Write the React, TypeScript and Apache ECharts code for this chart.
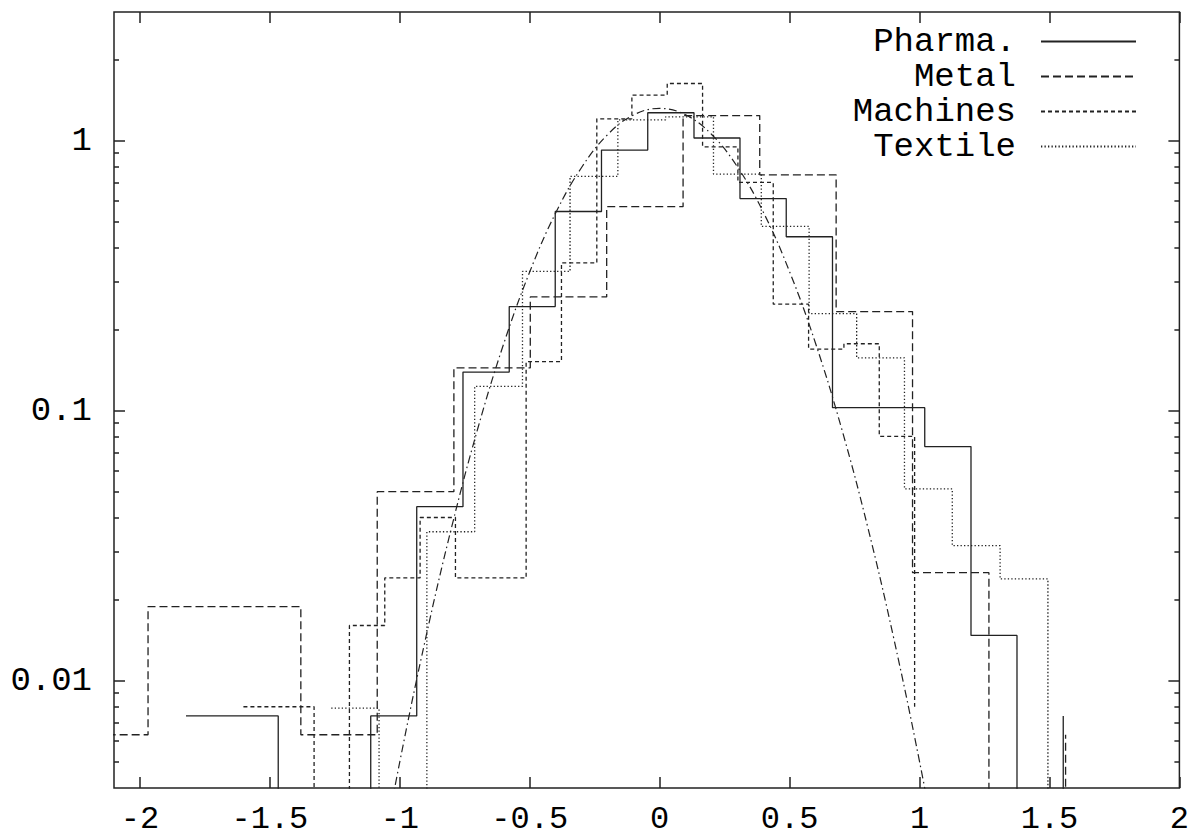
import React, { useEffect, useRef } from "react";
import * as echarts from "echarts";

const FONT = '"Liberation Mono", "Courier New", monospace';
const INK = "#222";

// axes
const X_MIN = -2.1;
const X_MAX = 2;
const X_TICKS = [-2, -1.5, -1, -0.5, 0, 0.5, 1, 1.5, 2];
const X_TICK_LABELS = ["-2", "-1.5", "-1", "-0.5", "0", "0.5", "1", "1.5", "2"];
const Y_MIN = 0.004;
const Y_MAX = 3;
const Y_MAJOR = [0.01, 0.1, 1];
const Y_MAJOR_LABELS = ["0.01", "0.1", "1"];
const Y_MINOR = [
    0.005, 0.006, 0.007, 0.008, 0.009,
    0.02, 0.03, 0.04, 0.05, 0.06, 0.07, 0.08, 0.09,
    0.2, 0.3, 0.4, 0.5, 0.6, 0.7, 0.8, 0.9,
    2,
];

// empty bins go below the bottom of the log axis
const EMPTY_FLOOR = 1e-4;

// histogram bin edges (left edge of each bin, last one closes the series) and densities
const pharmaEdges = [-1.823, -1.645, -1.468, -1.29, -1.112, -0.935, -0.757, -0.579, -0.402, -0.224, -0.046, 0.132, 0.309, 0.487, 0.665, 0.842, 1.02, 1.198, 1.375, 1.553];
const pharmaValues = [0.0074, 0.0074, 0, 0, 0.0074, 0.0441, 0.139, 0.243, 0.547, 0.924, 1.27, 1.024, 0.611, 0.441, 0.1026, 0.1026, 0.0736, 0.0147, 0, 0.0074];

const metalEdges = [-2.263, -1.969, -1.675, -1.381, -1.087, -0.792, -0.498, -0.204, 0.09, 0.385, 0.679, 0.973, 1.267, 1.562];
const metalValues = [0.0063, 0.0188, 0.0188, 0.0063, 0.0501, 0.144, 0.264, 0.57, 1.24, 0.748, 0.233, 0.0251, 0, 0.0063];

const machinesEdges = [-1.602, -1.465, -1.33, -1.194, -1.058, -0.922, -0.786, -0.65, -0.514, -0.378, -0.242, -0.107, 0.029, 0.165, 0.301, 0.437, 0.573, 0.709, 0.845, 0.981];
const machinesValues = [0.008, 0.008, 0, 0.016, 0.024, 0.0402, 0.024, 0.024, 0.152, 0.353, 1.206, 1.476, 1.63, 0.95, 0.701, 0.248, 0.169, 0.177, 0.0803, 0.008];

const textileEdges = [-1.264, -1.08, -0.896, -0.712, -0.528, -0.345, -0.161, 0.023, 0.207, 0.391, 0.575, 0.758, 0.942, 1.126, 1.31, 1.494];
const textileValues = [0.0079, 0, 0.0356, 0.123, 0.328, 0.738, 1.196, 1.227, 0.753, 0.482, 0.229, 0.157, 0.0513, 0.0316, 0.0238, 0];

// fitted curve
const fitX = [-1.1, -1.0, -0.9, -0.8, -0.7, -0.6, -0.5, -0.4, -0.3, -0.2, -0.1, 0, 0.1, 0.2, 0.3, 0.4, 0.5, 0.6, 0.7, 0.8, 0.9, 1.0, 1.1];
const fitY = [0.00156, 0.00501, 0.01445, 0.03725, 0.0859, 0.1773, 0.327, 0.541, 0.798, 1.055, 1.247, 1.318, 1.247, 1.055, 0.798, 0.541, 0.327, 0.1773, 0.0859, 0.03725, 0.01445, 0.00501, 0.00156];

const toLog = (v: number) => Math.log10(v > 0 ? v : EMPTY_FLOOR);
const steps = (edges: number[], values: number[]) => edges.map((x, i) => [x, toLog(values[i])]);

const histSeries = (name: string, edges: number[], values: number[], dash: any, width = 1.3) => ({
    name,
    type: "line",
    step: "end",
    symbol: "none",
    data: steps(edges, values),
    lineStyle: { color: INK, width, type: dash },
    itemStyle: { color: INK },
});

const yAxisBase = (position: "left" | "right", values: number[], len: number, labels: boolean) => ({
    type: "value",
    position,
    min: Math.log10(Y_MIN),
    max: Math.log10(Y_MAX),
    axisLine: { show: false, onZero: false },
    splitLine: { show: false },
    axisTick: {
        show: true,
        inside: true,
        length: len,
        customValues: values.map(Math.log10),
        lineStyle: { color: INK, width: 1.5 },
    },
    axisLabel: labels
        ? {
              show: true,
              customValues: Y_MAJOR.map(Math.log10),
              formatter: (v: number) => {
                  const i = Y_MAJOR.findIndex((t) => Math.abs(Math.log10(t) - v) < 1e-6);
                  return i >= 0 ? Y_MAJOR_LABELS[i] : "";
              },
              fontFamily: FONT,
              fontSize: 34,
              color: "#000",
              margin: 22,
          }
        : { show: false },
});

const xAxisBase = (position: "bottom" | "top", labels: boolean) => ({
    type: "value",
    position,
    min: X_MIN,
    max: X_MAX,
    axisLine: { show: false, onZero: false },
    splitLine: { show: false },
    axisTick: {
        show: true,
        inside: true,
        length: 11,
        customValues: X_TICKS,
        lineStyle: { color: INK, width: 1.5 },
    },
    axisLabel: labels
        ? {
              show: true,
              customValues: X_TICKS,
              formatter: (v: number) => {
                  const i = X_TICKS.findIndex((t) => Math.abs(t - v) < 1e-6);
                  return i >= 0 ? X_TICK_LABELS[i] : "";
              },
              fontFamily: FONT,
              fontSize: 32,
              color: "#000",
              margin: 15,
          }
        : { show: false },
});

const App = () => {
    const chartRef = useRef<HTMLDivElement>(null);

    useEffect(() => {
        const chart = echarts.init(chartRef.current!, null, { renderer: "svg" });

        const option: any = {
            animation: false,
            backgroundColor: "#fff",
            grid: {
                left: 114,
                right: 12,
                top: 12,
                bottom: 51,
                show: true,
                borderColor: INK,
                borderWidth: 1.5,
                backgroundColor: "transparent",
            },
            legend: {
                data: ["Pharma.", "Metal", "Machines", "Textile"],
                orient: "vertical",
                align: "right",
                right: 55,
                top: 24,
                padding: 0,
                itemGap: 0,
                itemWidth: 95,
                itemHeight: 14,
                selectedMode: false,
                itemStyle: { opacity: 0 },
                textStyle: {
                    fontFamily: FONT,
                    fontSize: 34,
                    color: "#000",
                    lineHeight: 35,
                    padding: [0, 20, 0, 0],
                },
            },
            xAxis: [xAxisBase("bottom", true), xAxisBase("top", false)],
            yAxis: [
                yAxisBase("left", Y_MAJOR, 11, true),
                yAxisBase("left", Y_MINOR, 5, false),
                yAxisBase("right", Y_MAJOR, 11, false),
                yAxisBase("right", Y_MINOR, 5, false),
            ],
            series: [
                histSeries("Pharma.", pharmaEdges, pharmaValues, "solid"),
                histSeries("Metal", metalEdges, metalValues, [8, 4]),
                histSeries("Machines", machinesEdges, machinesValues, [4, 3]),
                histSeries("Textile", textileEdges, textileValues, [1.3, 2.2]),
                {
                    name: "fit",
                    type: "line",
                    symbol: "none",
                    smooth: 0.4,
                    data: fitX.map((x, i) => [x, toLog(fitY[i])]),
                    lineStyle: { color: INK, width: 1.2, type: [8, 3.5, 1.5, 3.5] },
                    itemStyle: { color: INK },
                },
            ],
        };

        chart.setOption(option);

        return () => {
            chart.dispose();
        };
    }, []);

    return (
        <div
            ref={chartRef}
            style={{ position: "absolute", left: 0, top: 0, width: "1192px", height: "839px", background: "#fff" }}
        ></div>
    );
};

export default App;
